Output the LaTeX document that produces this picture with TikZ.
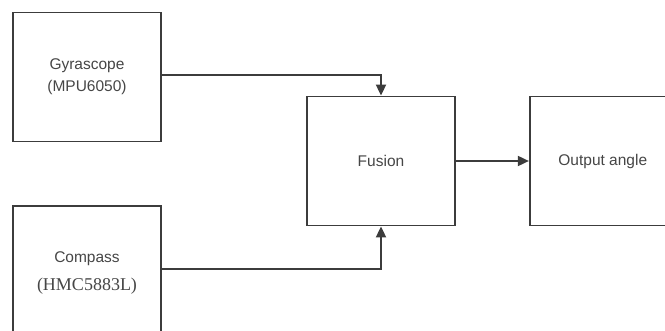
\documentclass[tikz,border=0pt]{standalone}
\usepackage{fontspec}
\setmainfont{Liberation Sans}
\newfontfamily\serifchip{Liberation Serif}
\usetikzlibrary{arrows.meta, positioning}
\definecolor{trazo}{RGB}{60,60,60}
\definecolor{letra}{RGB}{70,70,70}
\tikzset{
  bloque/.style={rectangle, draw=trazo, line width=1.8pt, fill=white,
    minimum width=148pt, minimum height=129pt, align=center,
    font=\fontsize{15.5}{22}\selectfont, text=letra, inner sep=0pt},
  flecha/.style={-{Triangle[length=11pt, width=10pt]}, line width=1.8pt,
    color=trazo}
}
\begin{document}
\begin{tikzpicture}[x=1pt, y=-1pt]
  \useasboundingbox (0,0) rectangle (665,331);
  \clip (0,0) rectangle (665,331);
  \node[bloque] (gyro) at (87,77) {Gyrascope\\(MPU6050)};
  \node[bloque, minimum height=135pt] (comp) at (87,273.5)
    {Compass\\[6pt]{\serifchip\fontsize{18}{21}\selectfont(HMC5883L)}};
  \node[bloque] (fus) at (381,161) {Fusion};
  \node[bloque, minimum width=146pt, right=73pt of fus] (out) {Output angle};
  \draw[flecha] (gyro.east |- 0,75) -| (fus.north);
  \draw[flecha] (comp.east |- 0,269) -| (fus.south);
  \draw[flecha] (fus) -- (out);
\end{tikzpicture}
\end{document}
